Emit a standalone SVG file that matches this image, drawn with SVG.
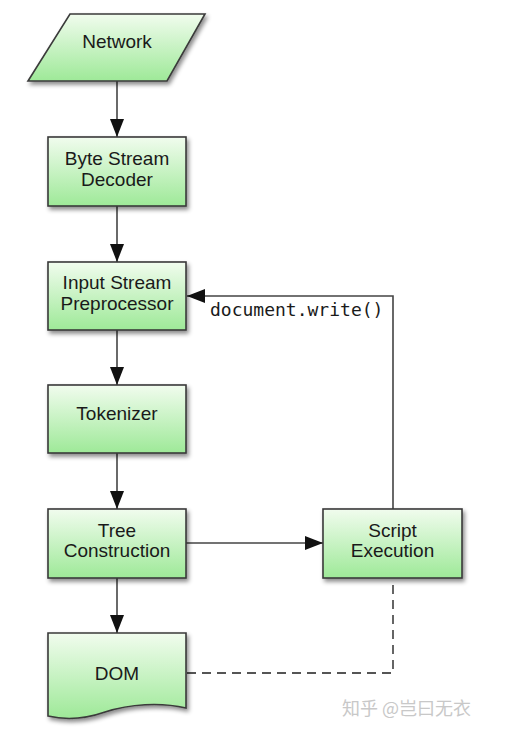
<svg xmlns="http://www.w3.org/2000/svg" width="505" height="748" viewBox="0 0 505 748">
<defs>
<linearGradient id="g" x1="0" y1="0" x2="0" y2="1">
<stop offset="0" stop-color="#f1fcee"/>
<stop offset="1" stop-color="#9ee998"/>
</linearGradient>
<filter id="sh" x="-20%" y="-20%" width="140%" height="150%">
<feDropShadow dx="2" dy="3" stdDeviation="2" flood-color="#000" flood-opacity="0.45"/>
</filter>
<marker id="ah" markerUnits="userSpaceOnUse" markerWidth="18" markerHeight="14" refX="18" refY="7" orient="auto">
<path d="M0,0 L18,7 L0,14 Z" fill="#111"/>
</marker>
<style>
.n{fill:url(#g);stroke:#3a3a3a;stroke-width:1.6;filter:url(#sh)}
.t{font-family:"Liberation Sans",Arial,sans-serif;font-size:19px;fill:#1a1a1a;text-anchor:middle}
.c{fill:none;stroke:#444;stroke-width:1.6}
.d{fill:none;stroke:#555;stroke-width:1.8;stroke-dasharray:9 6}
.m{font-family:"DejaVu Sans Mono","Liberation Mono",monospace;font-size:18px;fill:#1a1a1a}
.w{font-family:"Noto Sans CJK SC","Liberation Sans",sans-serif;font-size:18px;fill:#c8c8c8}
</style>
</defs>
<rect width="505" height="748" fill="#fff"/>
<g id="connectors">
<line class="c" x1="117" y1="81" x2="117" y2="137" marker-end="url(#ah)"/>
<line class="c" x1="117" y1="206" x2="117" y2="262" marker-end="url(#ah)"/>
<line class="c" x1="117" y1="330" x2="117" y2="385" marker-end="url(#ah)"/>
<line class="c" x1="117" y1="453" x2="117" y2="509" marker-end="url(#ah)"/>
<line class="c" x1="117" y1="578" x2="117" y2="633" marker-end="url(#ah)"/>
<line class="c" x1="186" y1="543" x2="323" y2="543" marker-end="url(#ah)"/>
<path class="c" d="M393,509 V296 H187" marker-end="url(#ah)"/>
<text class="m" x="210" y="316">document.write()</text>
<path class="d" d="M187,673 H393 V579"/>
</g>
<g id="network">
<polygon class="n" points="70,14 205,14 167,81 28,81"/>
<text class="t" x="117" y="48">Network</text>
</g>
<g id="byte-stream-decoder">
<rect class="n" x="48" y="137" width="138" height="69"/>
<text class="t" x="117" y="165">Byte Stream</text>
<text class="t" x="117" y="186">Decoder</text>
</g>
<g id="input-stream-preprocessor">
<rect class="n" x="48" y="262" width="138" height="68"/>
<text class="t" x="117" y="289">Input Stream</text>
<text class="t" x="117" y="310">Preprocessor</text>
</g>
<g id="tokenizer">
<rect class="n" x="48" y="385" width="138" height="68"/>
<text class="t" x="117" y="420">Tokenizer</text>
</g>
<g id="tree-construction">
<rect class="n" x="48" y="509" width="138" height="69"/>
<text class="t" x="117" y="537">Tree</text>
<text class="t" x="117" y="557">Construction</text>
</g>
<g id="script-execution">
<rect class="n" x="323" y="509" width="139" height="69"/>
<text class="t" x="392.5" y="537">Script</text>
<text class="t" x="392.5" y="557">Execution</text>
</g>
<g id="dom">
<path class="n" d="M48,633 H186 V708 C160,702 130,704 105,712 C85,719 65,720 48,716 Z"/>
<text class="t" x="117" y="680">DOM</text>
</g>
<text class="w" x="342" y="715">知乎 @岂曰无衣</text>
</svg>
